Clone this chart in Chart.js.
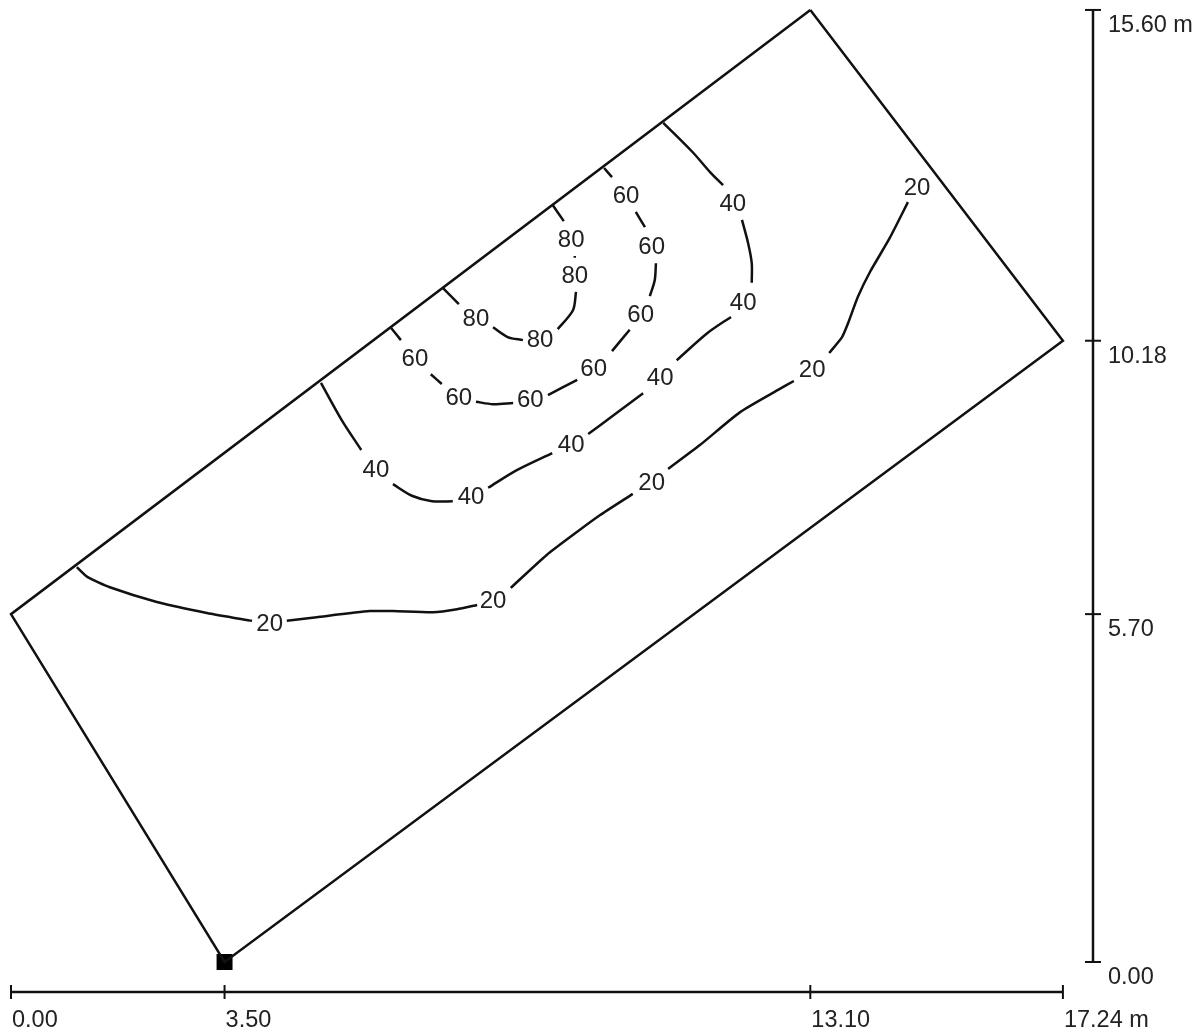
<!DOCTYPE html>
<html>
<head>
  <script src="https://cdn.jsdelivr.net/npm/chart.js"></script>
  <style>
    html, body { margin: 0; padding: 0; background: #fff; }
    #wrap { position: relative; width: 1203px; height: 1033px; overflow: hidden; }
  </style>
</head>
<body>
  <div id="wrap"><canvas id="contourChart"></canvas></div>

  <script>
    // Everything in metres. null = break in the line where a label sits
    const outlineX = [13.10, 17.24, 3.50, 0.00, 13.10];
    const outlineY = [15.60, 10.18, 0.00, 5.70, 15.60];

    const xTickValues = [0, 3.5, 13.1, 17.24];
    const xTickLabels = ['0.00', '3.50', '13.10', '17.24 m'];
    const yTickValues = [0, 5.7, 10.18, 15.6];
    const yTickLabels = ['0.00', '5.70', '10.18', '15.60 m'];

    const sensorX = [3.5];
    const sensorY = [0];

    const contour20X = [1.08, 1.25, 1.62, 2.39, 3.21, 3.95, null,
      4.52, 5.01, 5.88, 6.26, 6.92, 7.31, 7.64, null,
      8.19, 8.78, 9.28, 9.65, 10.19, null,
      10.77, 11.29, 11.95, 12.60, 12.83, null,
      13.41, 13.62, 13.72, 13.88, 14.08, 14.40, 14.70];
    const contour20Y = [6.47, 6.31, 6.14, 5.90, 5.72, 5.59, null,
      5.59, 5.65, 5.75, 5.75, 5.73, 5.78, 5.85, null,
      6.13, 6.67, 7.05, 7.32, 7.67, null,
      8.08, 8.47, 9.01, 9.39, 9.52, null,
      9.98, 10.24, 10.47, 10.90, 11.31, 11.86, 12.45];

    const contour40X = [10.69, 11.18, 11.46, 11.67, null,
      11.98, 12.08, 12.14, 12.14, null,
      11.80, 11.42, 10.91, null,
      10.36, 9.93, 9.46, null,
      8.87, 8.29, 7.82, null,
      7.24, 6.90, 6.57, 6.26, null,
      5.74, 5.42, 5.08];
    const contour40Y = [13.75, 13.26, 12.94, 12.73, null,
      12.16, 11.78, 11.45, 11.13, null,
      10.57, 10.31, 9.86, null,
      9.32, 9.00, 8.65, null,
      8.34, 8.06, 7.77, null,
      7.55, 7.55, 7.64, 7.83, null,
      8.39, 8.88, 9.49];

    const contour60X = [9.72, 9.85, null,
      10.24, 10.39, null,
      10.57, 10.55, 10.47, null,
      10.14, 9.85, null,
      9.28, 8.80, null,
      8.23, 7.90, 7.62, null,
      7.06, 6.88, null,
      6.39, 6.23];
    const contour60Y = [13.01, 12.86, null,
      12.29, 12.04, null,
      11.45, 11.17, 10.91, null,
      10.36, 10.01, null,
      9.54, 9.29, null,
      9.16, 9.14, 9.18, null,
      9.47, 9.63, null,
      10.19, 10.39];

    const contour80X = [8.88, 9.06, null,
      9.24, 9.24, null,
      9.26, 9.21, 8.96, null,
      8.39, 8.14, 7.90, null,
      7.34, 7.08];
    const contour80Y = [12.40, 12.14, null,
      11.57, 11.54, null,
      10.98, 10.68, 10.37, null,
      10.19, 10.24, 10.40, null,
      10.78, 11.04];

    const labelText = ['20', '20', '20', '20', '20',
      '40', '40', '40', '40', '40', '40',
      '60', '60', '60', '60', '60', '60', '60',
      '80', '80', '80', '80'];
    const labelX = [4.24, 7.90, 10.50, 13.13, 14.85,
      11.83, 12.00, 10.64, 9.18, 7.54, 5.98,
      10.08, 10.50, 10.32, 9.55, 8.51, 7.34, 6.62,
      9.18, 9.24, 8.67, 7.62];
    const labelY = [5.57, 5.95, 7.88, 9.72, 12.71,
      12.44, 10.83, 9.59, 8.50, 7.64, 8.09,
      12.57, 11.75, 10.63, 9.75, 9.23, 9.27, 9.90,
      11.85, 11.26, 10.22, 10.57];

    // where the two rulers sit, also in metres
    const xRulerAt = -0.4916;
    const yRulerAt = 17.733;

    const ink = '#111';
    const textInk = '#222';
    const family = '"Liberation Sans", Arial, sans-serif';

    function zip(xs, ys) {
      return xs.map((x, i) => ({ x: x, y: ys[i] }));
    }

    function lineSet(xs, ys, width, tension) {
      return {
        data: zip(xs, ys),
        showLine: true,
        borderColor: ink,
        borderWidth: width,
        tension: tension,
        pointRadius: 0,
        clip: false
      };
    }

    const contourLabels = {
      id: 'contourLabels',
      afterDatasetsDraw(chart) {
        const ctx = chart.ctx;
        ctx.save();
        ctx.font = '24px ' + family;
        ctx.fillStyle = textInk;
        ctx.textAlign = 'center';
        ctx.textBaseline = 'middle';
        labelText.forEach((t, i) => {
          // +2 because "middle" sits a little high for digits
          ctx.fillText(t, chart.scales.x.getPixelForValue(labelX[i]), chart.scales.y.getPixelForValue(labelY[i]) + 2);
        });
        ctx.restore();
      }
    };

    new Chart(document.getElementById('contourChart'), {
      type: 'scatter',
      data: {
        datasets: [
          lineSet(outlineX, outlineY, 2.5, 0),
          lineSet(contour20X, contour20Y, 2.5, 0.2),
          lineSet(contour40X, contour40Y, 2.5, 0.3),
          lineSet(contour60X, contour60Y, 2.5, 0.3),
          lineSet(contour80X, contour80Y, 2.5, 0.3),
          // rulers
          lineSet([xTickValues[0], xTickValues[3]], [xRulerAt, xRulerAt], 2.5, 0),
          lineSet([yRulerAt, yRulerAt], [yTickValues[0], yTickValues[3]], 2.5, 0),
          {
            data: xTickValues.map(v => ({ x: v, y: xRulerAt })),
            pointStyle: 'line', rotation: 90, pointRadius: 7,
            pointBorderColor: ink, pointBorderWidth: 2, clip: false
          },
          {
            data: yTickValues.map(v => ({ x: yRulerAt, y: v })),
            pointStyle: 'line', rotation: 0, pointRadius: 8,
            pointBorderColor: ink, pointBorderWidth: 2, clip: false
          },
          {
            data: zip(sensorX, sensorY),
            pointStyle: 'rect', pointRadius: 11.3,
            pointBackgroundColor: '#000', pointBorderWidth: 0, clip: false
          }
        ]
      },
      options: {
        responsive: true,
        maintainAspectRatio: false,
        animation: false,
        layout: { padding: 0, autoPadding: false },
        plugins: { legend: { display: false }, tooltip: { enabled: false } },
        scales: {
          x: {
            type: 'linear',
            min: -0.1803,
            max: yRulerAt,
            border: { display: false },
            grid: { display: false, drawTicks: false },
            afterBuildTicks: s => { s.ticks = xTickValues.map(v => ({ value: v })); },
            afterFit: s => { s.height = 41; s.paddingLeft = 0; s.paddingRight = 0; },
            ticks: {
              align: 'start',
              padding: 14,
              labelOffset: 1,
              autoSkip: false,
              maxRotation: 0,
              minRotation: 0,
              color: textInk,
              font: { family: family, size: 23.5 },
              callback: (v, i) => xTickLabels[i]
            }
          },
          y: {
            type: 'linear',
            position: 'right',
            min: xRulerAt,
            max: 15.763,
            border: { display: false },
            grid: { display: false, drawTicks: false },
            afterBuildTicks: s => { s.ticks = yTickValues.map(v => ({ value: v })); },
            afterFit: s => { s.width = 110; s.paddingTop = 0; s.paddingBottom = 0; },
            ticks: {
              align: 'start',
              padding: 15,
              labelOffset: 4,
              autoSkip: false,
              color: textInk,
              font: { family: family, size: 23.5 },
              callback: (v, i) => yTickLabels[i]
            }
          }
        }
      },
      plugins: [contourLabels]
    });
  </script>
</body>
</html>
